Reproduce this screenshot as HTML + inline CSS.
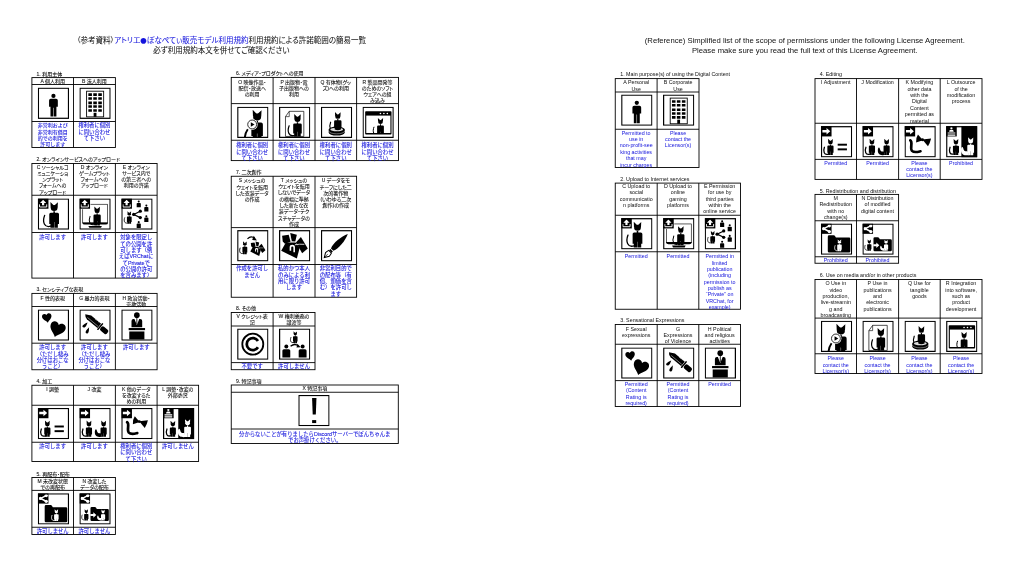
<!DOCTYPE html>
<html lang="ja">
<head>
<meta charset="utf-8">
<title>VN3 License simplified list</title>
<style>
html,body{margin:0;padding:0;background:#fff}
body{filter:blur(0.35px);width:1024px;height:571px;position:relative;overflow:hidden;font-family:"Liberation Sans","Noto Sans CJK JP",sans-serif;color:#111}
svg.g{position:absolute;left:0;top:0}
.tb{fill:none;stroke:#000;stroke-width:0.9}
.ib{fill:none;stroke:#000;stroke-width:3.9}
div{position:absolute;white-space:nowrap}
.h,.b{text-align:center}
.b{color:#1414dc}
.jp{font-feature-settings:"palt" 1;-webkit-text-stroke:0.09px currentColor}
.t.jp{-webkit-text-stroke:0.04px currentColor}
.h.jp{font-size:5.0px;line-height:6.2px}
.b.jp{font-size:5.35px;line-height:6.35px;font-feature-settings:normal}
.lb.jp{font-size:5.0px;line-height:6.2px}
.en{font-size:5.33px;line-height:6.38px}
.t{font-size:7.5px;line-height:10px;text-align:center;width:400px}
.te{font-size:7.7px;line-height:10.2px}
.t span{color:#1414dc}
.t i{font-style:normal;font-family:"Noto Sans CJK JP",sans-serif;font-size:6.4px}
</style>
</head>
<body>
<svg class="g" width="1024" height="571" viewBox="0 0 1024 571">
<rect x="31.9" y="77.6" width="83.5" height="69.9" class="tb"/>
<path d="M31.9 84.5H115.4M31.9 121.5H115.4M73.5 77.6V147.5" class="tb"/>
<svg x="37.8" y="87.6" width="31.3" height="31.3" viewBox="0 0 100 100"><circle cx="50" cy="26.5" r="6.8"/><path d="M36 41.5Q36 36 41.5 36H58.5Q64 36 64 41.5V61H59.5V92H50.8V64H49.2V92H40.5V61H36Z"/><rect x="1.95" y="1.95" width="96.1" height="96.1" class="ib"/></svg>
<svg x="79.4" y="87.6" width="31.3" height="31.3" viewBox="0 0 100 100"><rect x="23" y="11.5" width="54.5" height="82" fill="none" stroke="#000" stroke-width="2.8"/><path d="M28.6 18.4h11.4v8.2h-11.4zM28.6 30.5h11.4v8.2h-11.4zM28.6 44.6h11.4v8.2h-11.4zM28.6 56.4h11.4v8.2h-11.4zM28.6 68.9h11.4v8.2h-11.4zM44.3 18.4h11.4v8.2h-11.4zM44.3 30.5h11.4v8.2h-11.4zM44.3 44.6h11.4v8.2h-11.4zM44.3 56.4h11.4v8.2h-11.4zM44.3 68.9h11.4v8.2h-11.4zM60.3 18.4h11.4v8.2h-11.4zM60.3 30.5h11.4v8.2h-11.4zM60.3 44.6h11.4v8.2h-11.4zM60.3 56.4h11.4v8.2h-11.4zM60.3 68.9h11.4v8.2h-11.4z"/><rect x="45.5" y="80.5" width="9" height="13"/><rect x="1.95" y="1.95" width="96.1" height="96.1" class="ib"/></svg>
<rect x="31.9" y="163.5" width="125.2" height="114.6" class="tb"/>
<path d="M31.9 195.25H157.1M31.9 232.5H157.1M73.5 163.5V278.1M115.4 163.5V278.1" class="tb"/>
<svg x="37.8" y="198.4" width="31.3" height="31.3" viewBox="0 0 100 100"><g transform="translate(52.2 11.6) scale(0.82)" fill="#000"><ellipse cx="0" cy="23.4" rx="13.2" ry="11.4"/><path d="M-14.6 0L-13.6 22L-1 13.5ZM14.6 1L13.6 22L1 13.5Z"/><path d="M-3 36H3V42H13Q19 42 19 48V86H14.5V100H0.6V78H-0.6V100H-14.5V86H-19V48Q-19 42 -13 42H-3Z"/><path d="M-13 94C-38 102 -47 78 -37 52" fill="none" stroke="#000" stroke-width="5.2" stroke-linecap="round"/></g><rect x="-1" y="-1" width="36.6" height="35.6" fill="#fff"/><rect x="0" y="0" width="34" height="33" fill="#000"/><path d="M17 4.5L27 14.5H20.5V22H13.5V14.5H7Z" fill="#fff"/><path d="M5.5 19V27.5H28.5V19" fill="none" stroke="#fff" stroke-width="3"/><rect x="1.95" y="1.95" width="96.1" height="96.1" class="ib"/></svg>
<svg x="79.4" y="198.4" width="31.3" height="31.3" viewBox="0 0 100 100"><rect x="10.6" y="18.7" width="79.4" height="60" fill="none" stroke="#000" stroke-width="2"/><g transform="translate(56.6 25.8) scale(0.61)" fill="#000"><ellipse cx="0" cy="23.4" rx="13.2" ry="11.4"/><path d="M-14.6 0L-13.6 22L-1 13.5ZM14.6 1L13.6 22L1 13.5Z"/><path d="M-3 36H3V42H13Q19 42 19 48V86H14.5V100H0.6V78H-0.6V100H-14.5V86H-19V48Q-19 42 -13 42H-3Z"/><path d="M-13 94C-38 102 -47 78 -37 52" fill="none" stroke="#000" stroke-width="5.4" stroke-linecap="round"/></g><path d="M9.6 76.6H91.5Q91.5 83.7 84 83.7H17Q9.6 83.7 9.6 76.6Z"/><path d="M28.7 87.8H71.9L69 94H31.6Z"/><rect x="-1" y="-1" width="36.6" height="35.6" fill="#fff"/><rect x="0" y="0" width="34" height="33" fill="#000"/><path d="M17 4.5L27 14.5H20.5V22H13.5V14.5H7Z" fill="#fff"/><path d="M5.5 19V27.5H28.5V19" fill="none" stroke="#fff" stroke-width="3"/><rect x="1.95" y="1.95" width="96.1" height="96.1" class="ib"/></svg>
<svg x="121.3" y="198.4" width="31.3" height="31.3" viewBox="0 0 100 100"><g transform="translate(25.5 41) scale(0.4)" fill="#000"><ellipse cx="0" cy="23.4" rx="13.2" ry="11.4"/><path d="M-14.6 0L-13.6 22L-1 13.5ZM14.6 1L13.6 22L1 13.5Z"/><path d="M-3 36H3V42H13Q19 42 19 48V86H14.5V100H0.6V78H-0.6V100H-14.5V86H-19V48Q-19 42 -13 42H-3Z"/><path d="M-13 94C-38 102 -47 78 -37 52" fill="none" stroke="#000" stroke-width="6.5" stroke-linecap="round"/></g><path d="M60.7 41L39.6 51.2L60.7 61.4" fill="none" stroke="#000" stroke-width="3.8"/><circle cx="60.7" cy="41" r="5.2"/><circle cx="39.6" cy="51.2" r="5.2"/><circle cx="60.7" cy="61.4" r="5.2"/><g transform="translate(55.7 6.5) scale(0.22)" fill="#000"><circle cx="0" cy="15" r="15"/><path d="M-30 48Q-30 36 -18 36H18Q30 36 30 48V100H-30Z"/></g><g transform="translate(80 19.7) scale(0.22)" fill="#000"><circle cx="0" cy="15" r="15"/><path d="M-30 48Q-30 36 -18 36H18Q30 36 30 48V100H-30Z"/></g><g transform="translate(80 53.5) scale(0.22)" fill="#000"><circle cx="0" cy="15" r="15"/><path d="M-30 48Q-30 36 -18 36H18Q30 36 30 48V100H-30Z"/></g><g transform="translate(55.7 72.5) scale(0.22)" fill="#000"><circle cx="0" cy="15" r="15"/><path d="M-30 48Q-30 36 -18 36H18Q30 36 30 48V100H-30Z"/></g><rect x="-1" y="-1" width="36.6" height="35.6" fill="#fff"/><rect x="0" y="0" width="34" height="33" fill="#000"/><path d="M17 4.5L27 14.5H20.5V22H13.5V14.5H7Z" fill="#fff"/><path d="M5.5 19V27.5H28.5V19" fill="none" stroke="#fff" stroke-width="3"/><rect x="1.95" y="1.95" width="96.1" height="96.1" class="ib"/></svg>
<rect x="31.9" y="293.4" width="125.2" height="76.35" class="tb"/>
<path d="M31.9 306.5H157.1M31.9 343.2H157.1M73.5 293.4V369.75M115.4 293.4V369.75" class="tb"/>
<svg x="37.8" y="309.4" width="31.3" height="31.3" viewBox="0 0 100 100"><path transform="translate(29.5 27.5) rotate(-10) scale(0.95)" d="M0 -10C-4 -18 -16 -16 -16 -6C-16 4 -4 9 0 16C4 9 16 4 16 -6C16 -16 4 -18 0 -10Z"/><path transform="translate(62 64.5) rotate(18) scale(1.55)" d="M0 -10C-4 -18 -16 -16 -16 -6C-16 4 -4 9 0 16C4 9 16 4 16 -6C16 -16 4 -18 0 -10Z"/><rect x="1.95" y="1.95" width="96.1" height="96.1" class="ib"/></svg>
<svg x="79.4" y="309.4" width="31.3" height="31.3" viewBox="0 0 100 100"><g transform="translate(18.7 15.6) rotate(40)"><path d="M0 0L17 -9.5H58V8.5H14Q5 7 0 0Z"/><path d="M12 3.2H56" stroke="#fff" stroke-width="1.4"/><path d="M34 -9.5h4l-2 2.4zM40 -9.5h4l-2 2.4zM46 -9.5h4l-2 2.4z" fill="#fff"/><rect x="59.5" y="-14" width="4.6" height="27" rx="1.6"/><rect x="65.5" y="-8.2" width="27" height="16.4" rx="6"/></g><path d="M26 41.5C22 44 13 47 10.5 51.5C8 56 12 59 16.5 57.5C21 56 24 47 26 41.5Z"/><path d="M31 57C28.5 61 21 66 20 71.5C19 76 23 78.5 27 76C31 73.5 30.5 63 31 57Z"/><rect x="1.95" y="1.95" width="96.1" height="96.1" class="ib"/></svg>
<svg x="121.3" y="309.4" width="31.3" height="31.3" viewBox="0 0 100 100"><circle cx="49.7" cy="18.4" r="9"/><path d="M32.6 57V37Q32.6 30.6 39 30.6H42L49.7 50L57.4 30.6H60.4Q66.8 30.6 66.8 37V57Z"/><path d="M48.4 27H51V44L49.7 47.5L48.4 44Z"/><rect x="23.5" y="59.5" width="52.4" height="6.8"/><rect x="25.5" y="70.5" width="48.3" height="25.5"/><rect x="1.95" y="1.95" width="96.1" height="96.1" class="ib"/></svg>
<rect x="31.9" y="385.25" width="166.7" height="76.25" class="tb"/>
<path d="M31.9 405.25H198.6M31.9 442.25H198.6M73.5 385.25V461.5M115.4 385.25V461.5M157.1 385.25V461.5" class="tb"/>
<svg x="37.8" y="407.9" width="31.3" height="31.3" viewBox="0 0 100 100"><g transform="translate(30.5 40.5) scale(0.52)" fill="#000"><ellipse cx="0" cy="23.4" rx="13.2" ry="11.4"/><path d="M-14.6 0L-13.6 22L-1 13.5ZM14.6 1L13.6 22L1 13.5Z"/><path d="M-3 36H3V42H13Q19 42 19 48V86H14.5V100H0.6V78H-0.6V100H-14.5V86H-19V48Q-19 42 -13 42H-3Z"/><path d="M-13 94C-38 102 -47 78 -37 52" fill="none" stroke="#000" stroke-width="8" stroke-linecap="round"/></g><rect x="53.6" y="56.3" width="29.6" height="6.2"/><rect x="53.6" y="71.2" width="29.6" height="6.2"/><rect x="-1" y="-1" width="36.6" height="35.6" fill="#fff"/><rect x="0" y="0" width="34" height="33" fill="#000"/><path d="M4.5 12.5H18V6L30 16.5L18 27V20.5H4.5Z" fill="#fff"/><rect x="1.95" y="1.95" width="96.1" height="96.1" class="ib"/></svg>
<svg x="79.4" y="407.9" width="31.3" height="31.3" viewBox="0 0 100 100"><g transform="translate(30.5 40.5) scale(0.52)" fill="#000"><ellipse cx="0" cy="23.4" rx="13.2" ry="11.4"/><path d="M-14.6 0L-13.6 22L-1 13.5ZM14.6 1L13.6 22L1 13.5Z"/><path d="M-3 36H3V42H13Q19 42 19 48V86H14.5V100H0.6V78H-0.6V100H-14.5V86H-19V48Q-19 42 -13 42H-3Z"/><path d="M-13 94C-38 102 -47 78 -37 52" fill="none" stroke="#000" stroke-width="8" stroke-linecap="round"/></g><g transform="translate(77.4 40.5) scale(0.52)" fill="#000"><ellipse cx="0" cy="23.4" rx="13.2" ry="11.4"/><path d="M-14.6 0L-13.6 22L-1 13.5ZM14.6 1L13.6 22L1 13.5Z"/><path d="M-3 36H3V42H13Q19 42 19 48V86H14.5V100H0.6V78H-0.6V100H-14.5V86H-19V48Q-19 42 -13 42H-3Z"/></g><path transform="translate(77.4 40.5) scale(0.52)" fill="#000" d="M-12 100C-30 103 -52 98 -54 76C-55 60 -50 52 -46 54C-40 58 -42 70 -34 76C-27 80 -22 76 -16 80Z"/><rect x="-1" y="-1" width="36.6" height="35.6" fill="#fff"/><rect x="0" y="0" width="34" height="33" fill="#000"/><path d="M4.5 12.5H18V6L30 16.5L18 27V20.5H4.5Z" fill="#fff"/><rect x="1.95" y="1.95" width="96.1" height="96.1" class="ib"/></svg>
<svg x="121.3" y="407.9" width="31.3" height="31.3" viewBox="0 0 100 100"><path d="M18.5 45.5C28 52 16 70 24 79C31 86 44 82 51 80.5" fill="none" stroke="#000" stroke-width="8.6" stroke-linecap="round"/><path d="M59 45L43 27Q35 40 37 52Z"/><path d="M57 43L85 39.5Q82 53 75 64Z"/><circle cx="57.5" cy="43.8" r="4.6"/><rect x="-1" y="-1" width="36.6" height="35.6" fill="#fff"/><rect x="0" y="0" width="34" height="33" fill="#000"/><path d="M4.5 12.5H18V6L30 16.5L18 27V20.5H4.5Z" fill="#fff"/><rect x="1.95" y="1.95" width="96.1" height="96.1" class="ib"/></svg>
<svg x="163" y="407.9" width="31.3" height="31.3" viewBox="0 0 100 100"><rect x="48.8" y="0" width="51.2" height="100"/><g transform="translate(31.5 41) scale(0.51)" fill="#000"><ellipse cx="0" cy="23.4" rx="13.2" ry="11.4"/><path d="M-14.6 0L-13.6 22L-1 13.5ZM14.6 1L13.6 22L1 13.5Z"/><path d="M-3 36H3V42H13Q19 42 19 48V86H14.5V100H0.6V78H-0.6V100H-14.5V86H-19V48Q-19 42 -13 42H-3Z"/><path d="M-13 94C-38 102 -47 78 -37 52" fill="none" stroke="#000" stroke-width="8" stroke-linecap="round"/></g><g transform="translate(78.5 36) scale(0.57)" fill="#fff"><ellipse cx="0" cy="23.4" rx="13.2" ry="11.4"/><path d="M-14.6 0L-13.6 22L-1 13.5ZM14.6 1L13.6 22L1 13.5Z"/><path d="M-3 36H3V42H13Q19 42 19 48V86H14.5V100H0.6V78H-0.6V100H-14.5V86H-19V48Q-19 42 -13 42H-3Z"/></g><path transform="translate(78.5 36) scale(0.57)" fill="#fff" d="M-12 100C-30 103 -52 98 -54 76C-55 60 -50 52 -46 54C-40 58 -42 70 -34 76C-27 80 -22 76 -16 80Z"/><rect x="-1" y="-1" width="36.6" height="35.6" fill="#fff"/><rect x="0" y="0" width="34" height="33" fill="#000"/><circle cx="17" cy="6.5" r="3.6" fill="#fff"/><path d="M10 16.5Q10 11.5 14.5 11.5H19.5Q24 11.5 24 16.5V18H10Z" fill="#fff"/><path d="M4.5 20.5H29.5V24H4.5ZM4.5 27H29.5V30.5H4.5Z" fill="#fff"/><rect x="1.95" y="1.95" width="96.1" height="96.1" class="ib"/></svg>
<rect x="31.9" y="477.5" width="83.5" height="57" class="tb"/>
<path d="M31.9 490.4H115.4M31.9 527.25H115.4M73.5 477.5V534.5" class="tb"/>
<svg x="37.8" y="493.25" width="31.3" height="31.3" viewBox="0 0 100 100"><path d="M22 42Q22 37.8 26.2 37.8H41Q44 37.8 45.5 40.5L48 45H90Q94 45 94 49V88.7Q94 92.7 90 92.7H26Q22 92.7 22 88.7Z"/><g transform="translate(59.3 51) scale(0.38)" fill="#fff"><ellipse cx="0" cy="23.4" rx="13.2" ry="11.4"/><path d="M-14.6 0L-13.6 22L-1 13.5ZM14.6 1L13.6 22L1 13.5Z"/><path d="M-3 36H3V42H13Q19 42 19 48V86H14.5V100H0.6V78H-0.6V100H-14.5V86H-19V48Q-19 42 -13 42H-3Z"/><path d="M-13 94C-38 102 -47 78 -37 52" fill="none" stroke="#fff" stroke-width="7" stroke-linecap="round"/></g><rect x="-1" y="-1" width="36.6" height="35.6" fill="#fff"/><rect x="0" y="0" width="34" height="33" fill="#000"/><path d="M26.5 7.5L9 16.5L26.5 25.5" fill="none" stroke="#fff" stroke-width="4.8"/><circle cx="27" cy="7.2" r="5.2" fill="#fff"/><circle cx="8.4" cy="16.5" r="5.2" fill="#fff"/><circle cx="27" cy="25.8" r="5.2" fill="#fff"/><rect x="1.95" y="1.95" width="96.1" height="96.1" class="ib"/></svg>
<svg x="79.4" y="493.25" width="31.3" height="31.3" viewBox="0 0 100 100"><path d="M35.4 48Q35.4 44 39.4 44H49Q52 44 53.5 46.6L55.5 50H90Q94 50 94 54V85Q94 89 90 89H39.4Q35.4 89 35.4 85Z"/><g transform="translate(22 51) scale(0.36)" fill="#000"><ellipse cx="0" cy="23.4" rx="13.2" ry="11.4"/><path d="M-14.6 0L-13.6 22L-1 13.5ZM14.6 1L13.6 22L1 13.5Z"/><path d="M-3 36H3V42H13Q19 42 19 48V86H14.5V100H0.6V78H-0.6V100H-14.5V86H-19V48Q-19 42 -13 42H-3Z"/><path d="M-13 94C-38 102 -47 78 -37 52" fill="none" stroke="#000" stroke-width="6.5" stroke-linecap="round"/></g><path d="M35 66.2H44.5V60.5L54 69.5L44.5 78.5V72.8H35Z" fill="#fff"/><g transform="translate(75.6 52) scale(0.35)" fill="#fff"><ellipse cx="0" cy="23.4" rx="13.2" ry="11.4"/><path d="M-14.6 0L-13.6 22L-1 13.5ZM14.6 1L13.6 22L1 13.5Z"/><path d="M-3 36H3V42H13Q19 42 19 48V86H14.5V100H0.6V78H-0.6V100H-14.5V86H-19V48Q-19 42 -13 42H-3Z"/></g><path transform="translate(75.6 52) scale(0.35)" fill="#fff" d="M-12 100C-30 103 -52 98 -54 76C-55 60 -50 52 -46 54C-40 58 -42 70 -34 76C-27 80 -22 76 -16 80Z"/><rect x="-1" y="-1" width="36.6" height="35.6" fill="#fff"/><rect x="0" y="0" width="34" height="33" fill="#000"/><path d="M26.5 7.5L9 16.5L26.5 25.5" fill="none" stroke="#fff" stroke-width="4.8"/><circle cx="27" cy="7.2" r="5.2" fill="#fff"/><circle cx="8.4" cy="16.5" r="5.2" fill="#fff"/><circle cx="27" cy="25.8" r="5.2" fill="#fff"/><rect x="1.95" y="1.95" width="96.1" height="96.1" class="ib"/></svg>
<rect x="231.25" y="77.4" width="167.25" height="83.2" class="tb"/>
<path d="M231.25 103.6H398.5M231.25 140.25H398.5M273.1 77.4V160.6M315 77.4V160.6M356.6 77.4V160.6" class="tb"/>
<svg x="237.15" y="106.7" width="31.3" height="31.3" viewBox="0 0 100 100"><g transform="translate(63.8 10) scale(0.97)" fill="#000"><ellipse cx="0" cy="23.4" rx="13.2" ry="11.4"/><path d="M-14.6 0L-13.6 22L-1 13.5ZM14.6 1L13.6 22L1 13.5Z"/><path d="M-3 36H3V42H13Q19 42 19 48V86H14.5V100H0.6V78H-0.6V100H-14.5V86H-19V48Q-19 42 -13 42H-3Z"/></g><path d="M24 100C25 88 28 80 34 72" fill="none" stroke="#000" stroke-width="6.2"/><circle cx="48" cy="56.8" r="17.6" fill="#fff"/><circle cx="48" cy="56.8" r="14.2" fill="#fff" stroke="#000" stroke-width="2.6"/><path d="M43.6 49.6V64L55.6 56.8Z"/><rect x="1.95" y="1.95" width="96.1" height="96.1" class="ib"/></svg>
<svg x="279" y="106.7" width="31.3" height="31.3" viewBox="0 0 100 100"><path d="M32.7 14.8H79.3V95H20.7V31.8Z" fill="#fff" stroke="#000" stroke-width="2.2"/><path d="M32.7 14.8V31.8H20.7" fill="none" stroke="#000" stroke-width="2"/><g transform="translate(59 23.5) scale(0.72)" fill="#000"><ellipse cx="0" cy="23.4" rx="13.2" ry="11.4"/><path d="M-14.6 0L-13.6 22L-1 13.5ZM14.6 1L13.6 22L1 13.5Z"/><path d="M-3 36H3V42H13Q19 42 19 48V86H14.5V100H0.6V78H-0.6V100H-14.5V86H-19V48Q-19 42 -13 42H-3Z"/><path d="M-13 94C-38 102 -47 78 -37 52" fill="none" stroke="#000" stroke-width="5.4" stroke-linecap="round"/></g><rect x="1.95" y="1.95" width="96.1" height="96.1" class="ib"/></svg>
<svg x="320.9" y="106.7" width="31.3" height="31.3" viewBox="0 0 100 100"><g transform="translate(54 17.3) scale(0.62)" fill="#000"><ellipse cx="0" cy="23.4" rx="13.2" ry="11.4"/><path d="M-14.6 0L-13.6 22L-1 13.5ZM14.6 1L13.6 22L1 13.5Z"/><path d="M-3 36H3V42H13Q19 42 19 48V86H14.5V100H0.6V78H-0.6V100H-14.5V86H-19V48Q-19 42 -13 42H-3Z"/><path d="M-13 94C-38 102 -47 78 -37 52" fill="none" stroke="#000" stroke-width="6" stroke-linecap="round"/></g><path d="M24.9 73V82.5A25.6 9.5 0 0 0 76.1 82.5V73Z"/><ellipse cx="50.5" cy="73" rx="25.6" ry="9.5"/><ellipse cx="50.5" cy="72.6" rx="20.4" ry="5.6" fill="#ddd"/><path d="M25.4 78.4A25.2 9 0 0 0 75.6 78.4" fill="none" stroke="#fff" stroke-width="1.3"/><path d="M44 56H64V73Q54 77 44 73Z"/><rect x="1.95" y="1.95" width="96.1" height="96.1" class="ib"/></svg>
<svg x="362.5" y="106.7" width="31.3" height="31.3" viewBox="0 0 100 100"><rect x="8.5" y="14.8" width="84.2" height="74.2" rx="2.5" fill="#000"/><rect x="12" y="28.4" width="77.2" height="55.6" fill="#fff"/><svg x="12" y="28.4" width="77.2" height="55.6" viewBox="12 28.4 77.2 55.6"><g transform="translate(57.5 35.8) scale(0.57)" fill="#000"><ellipse cx="0" cy="23.4" rx="13.2" ry="11.4"/><path d="M-14.6 0L-13.6 22L-1 13.5ZM14.6 1L13.6 22L1 13.5Z"/><path d="M-3 36H3V42H13Q19 42 19 48V86H14.5V100H0.6V78H-0.6V100H-14.5V86H-19V48Q-19 42 -13 42H-3Z"/><path d="M-13 94C-38 102 -47 78 -37 52" fill="none" stroke="#000" stroke-width="5.6" stroke-linecap="round"/></g></svg><circle cx="57.3" cy="21.7" r="2.6" fill="#fff"/><circle cx="68.3" cy="21.7" r="2.6" fill="#fff"/><circle cx="79.3" cy="21.7" r="2.6" fill="#fff"/><rect x="1.95" y="1.95" width="96.1" height="96.1" class="ib"/></svg>
<rect x="231.25" y="176.25" width="125.35" height="121" class="tb"/>
<path d="M231.25 227.6H356.6M231.25 264.5H356.6M273.1 176.25V297.25M315 176.25V297.25" class="tb"/>
<svg x="237.15" y="230.1" width="31.3" height="31.3" viewBox="0 0 100 100"><g transform="translate(24.6 36) scale(0.41)" fill="#000"><ellipse cx="0" cy="23.4" rx="13.2" ry="11.4"/><path d="M-14.6 0L-13.6 22L-1 13.5ZM14.6 1L13.6 22L1 13.5Z"/><path d="M-3 36H3V42H13Q19 42 19 48V86H14.5V100H0.6V78H-0.6V100H-14.5V86H-19V48Q-19 42 -13 42H-3Z"/><path d="M-13 94C-38 102 -47 78 -37 52" fill="none" stroke="#000" stroke-width="7" stroke-linecap="round"/></g><path d="M33 28Q44 16 56 26" fill="none" stroke="#000" stroke-width="4"/><path d="M53 18L63 33L48 32Z"/><g transform="translate(38 31) scale(0.57)"><path d="M36 9L57 15L52 36.4L39 35.4Z"/><path d="M10 18L31 15L37 37.4L19 43.4L12 36.4Z"/><path d="M22 39.4L7 65.7L57 91L66 56.6L53 39.4Z"/><path d="M54 39.4L70 22.2L92 58.6L74 73.7L64 56.6Z"/><path d="M33 10L40.6 36.4" stroke="#fff" stroke-width="2.2" fill="none"/><path d="M51 46.8Q66 44 81 45.5" stroke="#fff" stroke-width="2.6" fill="none"/><path d="M34 66V53Q34 46.5 42.5 46.5Q51 46.5 51 53V70.5H46V56Q46 52.5 42.5 52.5Q39 52.5 39 56V66Z" fill="#fff"/></g><rect x="1.95" y="1.95" width="96.1" height="96.1" class="ib"/></svg>
<svg x="279" y="230.1" width="31.3" height="31.3" viewBox="0 0 100 100"><g transform="translate(0 0) scale(1)"><path d="M36 9L57 15L52 36.4L39 35.4Z"/><path d="M10 18L31 15L37 37.4L19 43.4L12 36.4Z"/><path d="M22 39.4L7 65.7L57 91L66 56.6L53 39.4Z"/><path d="M54 39.4L70 22.2L92 58.6L74 73.7L64 56.6Z"/><path d="M33 10L40.6 36.4" stroke="#fff" stroke-width="2.2" fill="none"/><path d="M51 46.8Q66 44 81 45.5" stroke="#fff" stroke-width="2.6" fill="none"/><path d="M34 66V53Q34 46.5 42.5 46.5Q51 46.5 51 53V70.5H46V56Q46 52.5 42.5 52.5Q39 52.5 39 56V66Z" fill="#fff"/></g><rect x="1.95" y="1.95" width="96.1" height="96.1" class="ib"/></svg>
<svg x="320.9" y="230.1" width="31.3" height="31.3" viewBox="0 0 100 100"><g transform="translate(11 87.5) rotate(-45)"><path d="M0 0L14 -8.5Q20 -8 26 -6V6Q20 8 14 8.5Z" fill="#fff" stroke="#000" stroke-width="3.2"/><path d="M2 0H15" stroke="#000" stroke-width="2.2"/><rect x="27.5" y="-5.6" width="5.5" height="11.2"/><path d="M35.5 -5.6C52 -13 86 -9.5 106 0C86 9.5 52 13 35.5 5.6Z"/></g><rect x="1.95" y="1.95" width="96.1" height="96.1" class="ib"/></svg>
<rect x="231.25" y="312.5" width="83.75" height="57.2" class="tb"/>
<path d="M231.25 326H315M231.25 362.6H315M273.1 312.5V369.7" class="tb"/>
<svg x="237.15" y="328.5" width="31.3" height="31.3" viewBox="0 0 100 100"><circle cx="50" cy="50" r="33.5" fill="none" stroke="#000" stroke-width="5.8"/><path d="M66.5 40A19.3 19.3 0 1 0 66.5 60" fill="none" stroke="#000" stroke-width="8.8"/><rect x="1.95" y="1.95" width="96.1" height="96.1" class="ib"/></svg>
<svg x="279" y="328.5" width="31.3" height="31.3" viewBox="0 0 100 100"><g transform="translate(52 9) scale(0.38)" fill="#000"><ellipse cx="0" cy="23.4" rx="13.2" ry="11.4"/><path d="M-14.6 0L-13.6 22L-1 13.5ZM14.6 1L13.6 22L1 13.5Z"/><path d="M-3 36H3V42H13Q19 42 19 48V86H14.5V100H0.6V78H-0.6V100H-14.5V86H-19V48Q-19 42 -13 42H-3Z"/><path d="M-13 94C-38 102 -47 78 -37 52" fill="none" stroke="#000" stroke-width="7" stroke-linecap="round"/></g><g transform="translate(23.4 51) scale(0.42)" fill="#000"><circle cx="0" cy="15" r="15"/><path d="M-30 48Q-30 36 -18 36H18Q30 36 30 48V100H-30Z"/></g><g transform="translate(75.5 51) scale(0.42)" fill="#000"><circle cx="0" cy="15" r="15"/><path d="M-30 48Q-30 36 -18 36H18Q30 36 30 48V100H-30Z"/></g><path d="M37 57Q50 46 62 56" fill="none" stroke="#000" stroke-width="4.2"/><path d="M59 49L69 60L56 61Z"/><rect x="1.95" y="1.95" width="96.1" height="96.1" class="ib"/></svg>
<rect x="231.25" y="385" width="167.05" height="58.5" class="tb"/>
<path d="M231.25 392.25H398.3M231.25 429H398.3" class="tb"/>
<svg x="298.3" y="394.9" width="31.3" height="31.3" viewBox="0 0 100 100"><path d="M44 10H58L56 63H46Z"/><rect x="44.2" y="80.5" width="13" height="9.5"/><rect x="1.95" y="1.95" width="96.1" height="96.1" class="ib"/></svg>
<rect x="615.25" y="78.6" width="83.75" height="88.9" class="tb"/>
<path d="M615.25 92H699M615.25 129.25H699M657.1 78.6V167.5" class="tb"/>
<svg x="621.15" y="94.5" width="31.3" height="31.3" viewBox="0 0 100 100"><circle cx="50" cy="26.5" r="6.8"/><path d="M36 41.5Q36 36 41.5 36H58.5Q64 36 64 41.5V61H59.5V92H50.8V64H49.2V92H40.5V61H36Z"/><rect x="1.95" y="1.95" width="96.1" height="96.1" class="ib"/></svg>
<svg x="663" y="94.5" width="31.3" height="31.3" viewBox="0 0 100 100"><rect x="23" y="11.5" width="54.5" height="82" fill="none" stroke="#000" stroke-width="2.8"/><path d="M28.6 18.4h11.4v8.2h-11.4zM28.6 30.5h11.4v8.2h-11.4zM28.6 44.6h11.4v8.2h-11.4zM28.6 56.4h11.4v8.2h-11.4zM28.6 68.9h11.4v8.2h-11.4zM44.3 18.4h11.4v8.2h-11.4zM44.3 30.5h11.4v8.2h-11.4zM44.3 44.6h11.4v8.2h-11.4zM44.3 56.4h11.4v8.2h-11.4zM44.3 68.9h11.4v8.2h-11.4zM60.3 18.4h11.4v8.2h-11.4zM60.3 30.5h11.4v8.2h-11.4zM60.3 44.6h11.4v8.2h-11.4zM60.3 56.4h11.4v8.2h-11.4zM60.3 68.9h11.4v8.2h-11.4z"/><rect x="45.5" y="80.5" width="9" height="13"/><rect x="1.95" y="1.95" width="96.1" height="96.1" class="ib"/></svg>
<rect x="615.25" y="183.1" width="125.25" height="126.15" class="tb"/>
<path d="M615.25 215.25H740.5M615.25 251.75H740.5M657.2 183.1V309.25M698.8 183.1V309.25" class="tb"/>
<svg x="621.15" y="218.1" width="31.3" height="31.3" viewBox="0 0 100 100"><g transform="translate(52.2 11.6) scale(0.82)" fill="#000"><ellipse cx="0" cy="23.4" rx="13.2" ry="11.4"/><path d="M-14.6 0L-13.6 22L-1 13.5ZM14.6 1L13.6 22L1 13.5Z"/><path d="M-3 36H3V42H13Q19 42 19 48V86H14.5V100H0.6V78H-0.6V100H-14.5V86H-19V48Q-19 42 -13 42H-3Z"/><path d="M-13 94C-38 102 -47 78 -37 52" fill="none" stroke="#000" stroke-width="5.2" stroke-linecap="round"/></g><rect x="-1" y="-1" width="36.6" height="35.6" fill="#fff"/><rect x="0" y="0" width="34" height="33" fill="#000"/><path d="M17 4.5L27 14.5H20.5V22H13.5V14.5H7Z" fill="#fff"/><path d="M5.5 19V27.5H28.5V19" fill="none" stroke="#fff" stroke-width="3"/><rect x="1.95" y="1.95" width="96.1" height="96.1" class="ib"/></svg>
<svg x="663.1" y="218.1" width="31.3" height="31.3" viewBox="0 0 100 100"><rect x="10.6" y="18.7" width="79.4" height="60" fill="none" stroke="#000" stroke-width="2"/><g transform="translate(56.6 25.8) scale(0.61)" fill="#000"><ellipse cx="0" cy="23.4" rx="13.2" ry="11.4"/><path d="M-14.6 0L-13.6 22L-1 13.5ZM14.6 1L13.6 22L1 13.5Z"/><path d="M-3 36H3V42H13Q19 42 19 48V86H14.5V100H0.6V78H-0.6V100H-14.5V86H-19V48Q-19 42 -13 42H-3Z"/><path d="M-13 94C-38 102 -47 78 -37 52" fill="none" stroke="#000" stroke-width="5.4" stroke-linecap="round"/></g><path d="M9.6 76.6H91.5Q91.5 83.7 84 83.7H17Q9.6 83.7 9.6 76.6Z"/><path d="M28.7 87.8H71.9L69 94H31.6Z"/><rect x="-1" y="-1" width="36.6" height="35.6" fill="#fff"/><rect x="0" y="0" width="34" height="33" fill="#000"/><path d="M17 4.5L27 14.5H20.5V22H13.5V14.5H7Z" fill="#fff"/><path d="M5.5 19V27.5H28.5V19" fill="none" stroke="#fff" stroke-width="3"/><rect x="1.95" y="1.95" width="96.1" height="96.1" class="ib"/></svg>
<svg x="704.7" y="218.1" width="31.3" height="31.3" viewBox="0 0 100 100"><g transform="translate(25.5 41) scale(0.4)" fill="#000"><ellipse cx="0" cy="23.4" rx="13.2" ry="11.4"/><path d="M-14.6 0L-13.6 22L-1 13.5ZM14.6 1L13.6 22L1 13.5Z"/><path d="M-3 36H3V42H13Q19 42 19 48V86H14.5V100H0.6V78H-0.6V100H-14.5V86H-19V48Q-19 42 -13 42H-3Z"/><path d="M-13 94C-38 102 -47 78 -37 52" fill="none" stroke="#000" stroke-width="6.5" stroke-linecap="round"/></g><path d="M60.7 41L39.6 51.2L60.7 61.4" fill="none" stroke="#000" stroke-width="3.8"/><circle cx="60.7" cy="41" r="5.2"/><circle cx="39.6" cy="51.2" r="5.2"/><circle cx="60.7" cy="61.4" r="5.2"/><g transform="translate(55.7 6.5) scale(0.22)" fill="#000"><circle cx="0" cy="15" r="15"/><path d="M-30 48Q-30 36 -18 36H18Q30 36 30 48V100H-30Z"/></g><g transform="translate(80 19.7) scale(0.22)" fill="#000"><circle cx="0" cy="15" r="15"/><path d="M-30 48Q-30 36 -18 36H18Q30 36 30 48V100H-30Z"/></g><g transform="translate(80 53.5) scale(0.22)" fill="#000"><circle cx="0" cy="15" r="15"/><path d="M-30 48Q-30 36 -18 36H18Q30 36 30 48V100H-30Z"/></g><g transform="translate(55.7 72.5) scale(0.22)" fill="#000"><circle cx="0" cy="15" r="15"/><path d="M-30 48Q-30 36 -18 36H18Q30 36 30 48V100H-30Z"/></g><rect x="-1" y="-1" width="36.6" height="35.6" fill="#fff"/><rect x="0" y="0" width="34" height="33" fill="#000"/><path d="M17 4.5L27 14.5H20.5V22H13.5V14.5H7Z" fill="#fff"/><path d="M5.5 19V27.5H28.5V19" fill="none" stroke="#fff" stroke-width="3"/><rect x="1.95" y="1.95" width="96.1" height="96.1" class="ib"/></svg>
<rect x="615.25" y="324.5" width="125.25" height="82" class="tb"/>
<path d="M615.25 344.25H740.5M615.25 380.6H740.5M657.2 324.5V406.5M698.8 324.5V406.5" class="tb"/>
<svg x="621.15" y="347.4" width="31.3" height="31.3" viewBox="0 0 100 100"><path transform="translate(29.5 27.5) rotate(-10) scale(0.95)" d="M0 -10C-4 -18 -16 -16 -16 -6C-16 4 -4 9 0 16C4 9 16 4 16 -6C16 -16 4 -18 0 -10Z"/><path transform="translate(62 64.5) rotate(18) scale(1.55)" d="M0 -10C-4 -18 -16 -16 -16 -6C-16 4 -4 9 0 16C4 9 16 4 16 -6C16 -16 4 -18 0 -10Z"/><rect x="1.95" y="1.95" width="96.1" height="96.1" class="ib"/></svg>
<svg x="663.1" y="347.4" width="31.3" height="31.3" viewBox="0 0 100 100"><g transform="translate(18.7 15.6) rotate(40)"><path d="M0 0L17 -9.5H58V8.5H14Q5 7 0 0Z"/><path d="M12 3.2H56" stroke="#fff" stroke-width="1.4"/><path d="M34 -9.5h4l-2 2.4zM40 -9.5h4l-2 2.4zM46 -9.5h4l-2 2.4z" fill="#fff"/><rect x="59.5" y="-14" width="4.6" height="27" rx="1.6"/><rect x="65.5" y="-8.2" width="27" height="16.4" rx="6"/></g><path d="M26 41.5C22 44 13 47 10.5 51.5C8 56 12 59 16.5 57.5C21 56 24 47 26 41.5Z"/><path d="M31 57C28.5 61 21 66 20 71.5C19 76 23 78.5 27 76C31 73.5 30.5 63 31 57Z"/><rect x="1.95" y="1.95" width="96.1" height="96.1" class="ib"/></svg>
<svg x="704.7" y="347.4" width="31.3" height="31.3" viewBox="0 0 100 100"><circle cx="49.7" cy="18.4" r="9"/><path d="M32.6 57V37Q32.6 30.6 39 30.6H42L49.7 50L57.4 30.6H60.4Q66.8 30.6 66.8 37V57Z"/><path d="M48.4 27H51V44L49.7 47.5L48.4 44Z"/><rect x="23.5" y="59.5" width="52.4" height="6.8"/><rect x="25.5" y="70.5" width="48.3" height="25.5"/><rect x="1.95" y="1.95" width="96.1" height="96.1" class="ib"/></svg>
<rect x="815" y="78.6" width="167" height="100.8" class="tb"/>
<path d="M815 123.25H982M815 159.4H982M856.5 78.6V179.4M898.6 78.6V179.4M940.2 78.6V179.4" class="tb"/>
<svg x="820.9" y="126.1" width="31.3" height="31.3" viewBox="0 0 100 100"><g transform="translate(30.5 40.5) scale(0.52)" fill="#000"><ellipse cx="0" cy="23.4" rx="13.2" ry="11.4"/><path d="M-14.6 0L-13.6 22L-1 13.5ZM14.6 1L13.6 22L1 13.5Z"/><path d="M-3 36H3V42H13Q19 42 19 48V86H14.5V100H0.6V78H-0.6V100H-14.5V86H-19V48Q-19 42 -13 42H-3Z"/><path d="M-13 94C-38 102 -47 78 -37 52" fill="none" stroke="#000" stroke-width="8" stroke-linecap="round"/></g><rect x="53.6" y="56.3" width="29.6" height="6.2"/><rect x="53.6" y="71.2" width="29.6" height="6.2"/><rect x="-1" y="-1" width="36.6" height="35.6" fill="#fff"/><rect x="0" y="0" width="34" height="33" fill="#000"/><path d="M4.5 12.5H18V6L30 16.5L18 27V20.5H4.5Z" fill="#fff"/><rect x="1.95" y="1.95" width="96.1" height="96.1" class="ib"/></svg>
<svg x="862.4" y="126.1" width="31.3" height="31.3" viewBox="0 0 100 100"><g transform="translate(30.5 40.5) scale(0.52)" fill="#000"><ellipse cx="0" cy="23.4" rx="13.2" ry="11.4"/><path d="M-14.6 0L-13.6 22L-1 13.5ZM14.6 1L13.6 22L1 13.5Z"/><path d="M-3 36H3V42H13Q19 42 19 48V86H14.5V100H0.6V78H-0.6V100H-14.5V86H-19V48Q-19 42 -13 42H-3Z"/><path d="M-13 94C-38 102 -47 78 -37 52" fill="none" stroke="#000" stroke-width="8" stroke-linecap="round"/></g><g transform="translate(77.4 40.5) scale(0.52)" fill="#000"><ellipse cx="0" cy="23.4" rx="13.2" ry="11.4"/><path d="M-14.6 0L-13.6 22L-1 13.5ZM14.6 1L13.6 22L1 13.5Z"/><path d="M-3 36H3V42H13Q19 42 19 48V86H14.5V100H0.6V78H-0.6V100H-14.5V86H-19V48Q-19 42 -13 42H-3Z"/></g><path transform="translate(77.4 40.5) scale(0.52)" fill="#000" d="M-12 100C-30 103 -52 98 -54 76C-55 60 -50 52 -46 54C-40 58 -42 70 -34 76C-27 80 -22 76 -16 80Z"/><rect x="-1" y="-1" width="36.6" height="35.6" fill="#fff"/><rect x="0" y="0" width="34" height="33" fill="#000"/><path d="M4.5 12.5H18V6L30 16.5L18 27V20.5H4.5Z" fill="#fff"/><rect x="1.95" y="1.95" width="96.1" height="96.1" class="ib"/></svg>
<svg x="904.5" y="126.1" width="31.3" height="31.3" viewBox="0 0 100 100"><path d="M18.5 45.5C28 52 16 70 24 79C31 86 44 82 51 80.5" fill="none" stroke="#000" stroke-width="8.6" stroke-linecap="round"/><path d="M59 45L43 27Q35 40 37 52Z"/><path d="M57 43L85 39.5Q82 53 75 64Z"/><circle cx="57.5" cy="43.8" r="4.6"/><rect x="-1" y="-1" width="36.6" height="35.6" fill="#fff"/><rect x="0" y="0" width="34" height="33" fill="#000"/><path d="M4.5 12.5H18V6L30 16.5L18 27V20.5H4.5Z" fill="#fff"/><rect x="1.95" y="1.95" width="96.1" height="96.1" class="ib"/></svg>
<svg x="946.1" y="126.1" width="31.3" height="31.3" viewBox="0 0 100 100"><rect x="48.8" y="0" width="51.2" height="100"/><g transform="translate(31.5 41) scale(0.51)" fill="#000"><ellipse cx="0" cy="23.4" rx="13.2" ry="11.4"/><path d="M-14.6 0L-13.6 22L-1 13.5ZM14.6 1L13.6 22L1 13.5Z"/><path d="M-3 36H3V42H13Q19 42 19 48V86H14.5V100H0.6V78H-0.6V100H-14.5V86H-19V48Q-19 42 -13 42H-3Z"/><path d="M-13 94C-38 102 -47 78 -37 52" fill="none" stroke="#000" stroke-width="8" stroke-linecap="round"/></g><g transform="translate(78.5 36) scale(0.57)" fill="#fff"><ellipse cx="0" cy="23.4" rx="13.2" ry="11.4"/><path d="M-14.6 0L-13.6 22L-1 13.5ZM14.6 1L13.6 22L1 13.5Z"/><path d="M-3 36H3V42H13Q19 42 19 48V86H14.5V100H0.6V78H-0.6V100H-14.5V86H-19V48Q-19 42 -13 42H-3Z"/></g><path transform="translate(78.5 36) scale(0.57)" fill="#fff" d="M-12 100C-30 103 -52 98 -54 76C-55 60 -50 52 -46 54C-40 58 -42 70 -34 76C-27 80 -22 76 -16 80Z"/><rect x="-1" y="-1" width="36.6" height="35.6" fill="#fff"/><rect x="0" y="0" width="34" height="33" fill="#000"/><circle cx="17" cy="6.5" r="3.6" fill="#fff"/><path d="M10 16.5Q10 11.5 14.5 11.5H19.5Q24 11.5 24 16.5V18H10Z" fill="#fff"/><path d="M4.5 20.5H29.5V24H4.5ZM4.5 27H29.5V30.5H4.5Z" fill="#fff"/><rect x="1.95" y="1.95" width="96.1" height="96.1" class="ib"/></svg>
<rect x="815" y="194.4" width="83.6" height="68.85" class="tb"/>
<path d="M815 220.75H898.6M815 256.75H898.6M856.5 194.4V263.25" class="tb"/>
<svg x="820.9" y="223.5" width="31.3" height="31.3" viewBox="0 0 100 100"><path d="M22 42Q22 37.8 26.2 37.8H41Q44 37.8 45.5 40.5L48 45H90Q94 45 94 49V88.7Q94 92.7 90 92.7H26Q22 92.7 22 88.7Z"/><g transform="translate(59.3 51) scale(0.38)" fill="#fff"><ellipse cx="0" cy="23.4" rx="13.2" ry="11.4"/><path d="M-14.6 0L-13.6 22L-1 13.5ZM14.6 1L13.6 22L1 13.5Z"/><path d="M-3 36H3V42H13Q19 42 19 48V86H14.5V100H0.6V78H-0.6V100H-14.5V86H-19V48Q-19 42 -13 42H-3Z"/><path d="M-13 94C-38 102 -47 78 -37 52" fill="none" stroke="#fff" stroke-width="7" stroke-linecap="round"/></g><rect x="-1" y="-1" width="36.6" height="35.6" fill="#fff"/><rect x="0" y="0" width="34" height="33" fill="#000"/><path d="M26.5 7.5L9 16.5L26.5 25.5" fill="none" stroke="#fff" stroke-width="4.8"/><circle cx="27" cy="7.2" r="5.2" fill="#fff"/><circle cx="8.4" cy="16.5" r="5.2" fill="#fff"/><circle cx="27" cy="25.8" r="5.2" fill="#fff"/><rect x="1.95" y="1.95" width="96.1" height="96.1" class="ib"/></svg>
<svg x="862.4" y="223.5" width="31.3" height="31.3" viewBox="0 0 100 100"><path d="M35.4 48Q35.4 44 39.4 44H49Q52 44 53.5 46.6L55.5 50H90Q94 50 94 54V85Q94 89 90 89H39.4Q35.4 89 35.4 85Z"/><g transform="translate(22 51) scale(0.36)" fill="#000"><ellipse cx="0" cy="23.4" rx="13.2" ry="11.4"/><path d="M-14.6 0L-13.6 22L-1 13.5ZM14.6 1L13.6 22L1 13.5Z"/><path d="M-3 36H3V42H13Q19 42 19 48V86H14.5V100H0.6V78H-0.6V100H-14.5V86H-19V48Q-19 42 -13 42H-3Z"/><path d="M-13 94C-38 102 -47 78 -37 52" fill="none" stroke="#000" stroke-width="6.5" stroke-linecap="round"/></g><path d="M35 66.2H44.5V60.5L54 69.5L44.5 78.5V72.8H35Z" fill="#fff"/><g transform="translate(75.6 52) scale(0.35)" fill="#fff"><ellipse cx="0" cy="23.4" rx="13.2" ry="11.4"/><path d="M-14.6 0L-13.6 22L-1 13.5ZM14.6 1L13.6 22L1 13.5Z"/><path d="M-3 36H3V42H13Q19 42 19 48V86H14.5V100H0.6V78H-0.6V100H-14.5V86H-19V48Q-19 42 -13 42H-3Z"/></g><path transform="translate(75.6 52) scale(0.35)" fill="#fff" d="M-12 100C-30 103 -52 98 -54 76C-55 60 -50 52 -46 54C-40 58 -42 70 -34 76C-27 80 -22 76 -16 80Z"/><rect x="-1" y="-1" width="36.6" height="35.6" fill="#fff"/><rect x="0" y="0" width="34" height="33" fill="#000"/><path d="M26.5 7.5L9 16.5L26.5 25.5" fill="none" stroke="#fff" stroke-width="4.8"/><circle cx="27" cy="7.2" r="5.2" fill="#fff"/><circle cx="8.4" cy="16.5" r="5.2" fill="#fff"/><circle cx="27" cy="25.8" r="5.2" fill="#fff"/><rect x="1.95" y="1.95" width="96.1" height="96.1" class="ib"/></svg>
<rect x="815" y="279.5" width="167" height="94" class="tb"/>
<path d="M815 318.1H982M815 353.75H982M856.5 279.5V373.5M898.6 279.5V373.5M940.2 279.5V373.5" class="tb"/>
<svg x="820.9" y="320.7" width="31.3" height="31.3" viewBox="0 0 100 100"><g transform="translate(63.8 10) scale(0.97)" fill="#000"><ellipse cx="0" cy="23.4" rx="13.2" ry="11.4"/><path d="M-14.6 0L-13.6 22L-1 13.5ZM14.6 1L13.6 22L1 13.5Z"/><path d="M-3 36H3V42H13Q19 42 19 48V86H14.5V100H0.6V78H-0.6V100H-14.5V86H-19V48Q-19 42 -13 42H-3Z"/></g><path d="M24 100C25 88 28 80 34 72" fill="none" stroke="#000" stroke-width="6.2"/><circle cx="48" cy="56.8" r="17.6" fill="#fff"/><circle cx="48" cy="56.8" r="14.2" fill="#fff" stroke="#000" stroke-width="2.6"/><path d="M43.6 49.6V64L55.6 56.8Z"/><rect x="1.95" y="1.95" width="96.1" height="96.1" class="ib"/></svg>
<svg x="862.4" y="320.7" width="31.3" height="31.3" viewBox="0 0 100 100"><path d="M32.7 14.8H79.3V95H20.7V31.8Z" fill="#fff" stroke="#000" stroke-width="2.2"/><path d="M32.7 14.8V31.8H20.7" fill="none" stroke="#000" stroke-width="2"/><g transform="translate(59 23.5) scale(0.72)" fill="#000"><ellipse cx="0" cy="23.4" rx="13.2" ry="11.4"/><path d="M-14.6 0L-13.6 22L-1 13.5ZM14.6 1L13.6 22L1 13.5Z"/><path d="M-3 36H3V42H13Q19 42 19 48V86H14.5V100H0.6V78H-0.6V100H-14.5V86H-19V48Q-19 42 -13 42H-3Z"/><path d="M-13 94C-38 102 -47 78 -37 52" fill="none" stroke="#000" stroke-width="5.4" stroke-linecap="round"/></g><rect x="1.95" y="1.95" width="96.1" height="96.1" class="ib"/></svg>
<svg x="904.5" y="320.7" width="31.3" height="31.3" viewBox="0 0 100 100"><g transform="translate(54 17.3) scale(0.62)" fill="#000"><ellipse cx="0" cy="23.4" rx="13.2" ry="11.4"/><path d="M-14.6 0L-13.6 22L-1 13.5ZM14.6 1L13.6 22L1 13.5Z"/><path d="M-3 36H3V42H13Q19 42 19 48V86H14.5V100H0.6V78H-0.6V100H-14.5V86H-19V48Q-19 42 -13 42H-3Z"/><path d="M-13 94C-38 102 -47 78 -37 52" fill="none" stroke="#000" stroke-width="6" stroke-linecap="round"/></g><path d="M24.9 73V82.5A25.6 9.5 0 0 0 76.1 82.5V73Z"/><ellipse cx="50.5" cy="73" rx="25.6" ry="9.5"/><ellipse cx="50.5" cy="72.6" rx="20.4" ry="5.6" fill="#ddd"/><path d="M25.4 78.4A25.2 9 0 0 0 75.6 78.4" fill="none" stroke="#fff" stroke-width="1.3"/><path d="M44 56H64V73Q54 77 44 73Z"/><rect x="1.95" y="1.95" width="96.1" height="96.1" class="ib"/></svg>
<svg x="946.1" y="320.7" width="31.3" height="31.3" viewBox="0 0 100 100"><rect x="8.5" y="14.8" width="84.2" height="74.2" rx="2.5" fill="#000"/><rect x="12" y="28.4" width="77.2" height="55.6" fill="#fff"/><svg x="12" y="28.4" width="77.2" height="55.6" viewBox="12 28.4 77.2 55.6"><g transform="translate(57.5 35.8) scale(0.57)" fill="#000"><ellipse cx="0" cy="23.4" rx="13.2" ry="11.4"/><path d="M-14.6 0L-13.6 22L-1 13.5ZM14.6 1L13.6 22L1 13.5Z"/><path d="M-3 36H3V42H13Q19 42 19 48V86H14.5V100H0.6V78H-0.6V100H-14.5V86H-19V48Q-19 42 -13 42H-3Z"/><path d="M-13 94C-38 102 -47 78 -37 52" fill="none" stroke="#000" stroke-width="5.6" stroke-linecap="round"/></g></svg><circle cx="57.3" cy="21.7" r="2.6" fill="#fff"/><circle cx="68.3" cy="21.7" r="2.6" fill="#fff"/><circle cx="79.3" cy="21.7" r="2.6" fill="#fff"/><rect x="1.95" y="1.95" width="96.1" height="96.1" class="ib"/></svg>
</svg>
<div class="t jp" style="left:21.35px;top:35.85px">（参考資料）<span>アトリエ<i>●</i>ぽなぺてぃ販売モデル利用規約</span>利用規約による許諾範囲の簡易一覧<br>必ず利用規約本文を併せてご確認ください</div>
<div class="t te" style="left:604.8px;top:36.05px">(Reference) Simplified list of the scope of permissions under the following License Agreement.<br>Please make sure you read the full text of this License Agreement.</div>
<div class="lb jp" style="left:36.6px;top:70.7px">1. 利用主体</div>
<div class="h jp" style="left:31.9px;top:77.95px;width:41.6px;">A 個人利用</div>
<div class="b jp" style="left:31.9px;top:122.45px;width:41.6px;font-size:5px;line-height:6.35px;">非営利および<br>非営利有償目<br>的での利用を<br>許可します</div>
<div class="h jp" style="left:73.5px;top:77.95px;width:41.9px;">B 法人利用</div>
<div class="b jp" style="left:73.5px;top:122.25px;width:41.9px;">権利者に個別<br>に問い合わせ<br>て下さい</div>
<div class="lb jp" style="left:36.6px;top:155.5px">2. オンラインサービスへのアップロード</div>
<div class="h jp" style="left:31.9px;top:163.85px;width:41.6px;">C ソーシャルコ<br>ミュニケーショ<br>ンプラット<br>フォームへの<br>アップロード</div>
<div class="b jp" style="left:31.9px;top:234.3px;width:41.6px;">許可します</div>
<div class="h jp" style="left:73.5px;top:163.85px;width:41.9px;">D オンライン<br>ゲームプラット<br>フォームへの<br>アップロード</div>
<div class="b jp" style="left:73.5px;top:234.3px;width:41.9px;">許可します</div>
<div class="h jp" style="left:115.4px;top:163.85px;width:41.7px;">E オンライン<br>サービス内で<br>の第三者への<br>利用の許諾</div>
<div class="b jp" style="left:115.4px;top:234.3px;width:41.7px;">対象を限定し<br>ての公開を許<br>可します（例<br>えばVRChatに<br>てPrivateで<br>の公開の許可<br>を含みます）</div>
<div class="lb jp" style="left:36.6px;top:286.4px">3. センシティブな表現</div>
<div class="h jp" style="left:31.9px;top:294.75px;width:41.6px;">F 性的表現</div>
<div class="b jp" style="left:31.9px;top:344.4px;width:41.6px;">許可します<br>（ただし棲み<br>分けはおこな<br>うこと）</div>
<div class="h jp" style="left:73.5px;top:294.75px;width:41.9px;">G 暴力的表現</div>
<div class="b jp" style="left:73.5px;top:344.4px;width:41.9px;">許可します<br>（ただし棲み<br>分けはおこな<br>うこと）</div>
<div class="h jp" style="left:115.4px;top:294.75px;width:41.7px;">H 政治活動・<br>宗教活動</div>
<div class="b jp" style="left:115.4px;top:344.4px;width:41.7px;">許可します</div>
<div class="lb jp" style="left:36.6px;top:377.7px">4. 加工</div>
<div class="h jp" style="left:31.9px;top:385.8px;width:41.6px;">I 調整</div>
<div class="b jp" style="left:31.9px;top:443.15px;width:41.6px;">許可します</div>
<div class="h jp" style="left:73.5px;top:385.8px;width:41.9px;">J 改変</div>
<div class="b jp" style="left:73.5px;top:443.15px;width:41.9px;">許可します</div>
<div class="h jp" style="left:115.4px;top:385.8px;width:41.7px;">K 他のデータ<br>を改変するた<br>めの利用</div>
<div class="b jp" style="left:115.4px;top:443.15px;width:41.7px;">権利者に個別<br>に問い合わせ<br>て下さい</div>
<div class="h jp" style="left:157.1px;top:385.8px;width:41.5px;">L 調整・改変の<br>外部委託</div>
<div class="b jp" style="left:157.1px;top:443.15px;width:41.5px;">許可しません</div>
<div class="lb jp" style="left:36.6px;top:470.5px">5. 再配布・配布</div>
<div class="h jp" style="left:31.9px;top:477.85px;width:41.6px;">M 未改変状態<br>での再配布</div>
<div class="b jp" style="left:31.9px;top:527.75px;width:41.6px;">許可しません</div>
<div class="h jp" style="left:73.5px;top:477.85px;width:41.9px;">N 改変した<br>データの配布</div>
<div class="b jp" style="left:73.5px;top:527.75px;width:41.9px;">許可しません</div>
<div class="lb jp" style="left:236px;top:70.4px">6. メディア・プロダクトへの使用</div>
<div class="h jp" style="left:231.25px;top:78.75px;width:41.85px;">O 映像作品・<br>配信・放送へ<br>の利用</div>
<div class="b jp" style="left:231.25px;top:142.25px;width:41.85px;">権利者に個別<br>に問い合わせ<br>て下さい</div>
<div class="h jp" style="left:273.1px;top:78.75px;width:41.9px;">P 出版物・電<br>子出版物への<br>利用</div>
<div class="b jp" style="left:273.1px;top:142.25px;width:41.9px;">権利者に個別<br>に問い合わせ<br>て下さい</div>
<div class="h jp" style="left:315px;top:78.75px;width:41.6px;">Q 有体物(グッ<br>ズ)への利用</div>
<div class="b jp" style="left:315px;top:142.25px;width:41.6px;">権利者に個別<br>に問い合わせ<br>て下さい</div>
<div class="h jp" style="left:356.6px;top:78.75px;width:41.9px;">R 製品開発等<br>のためのソフト<br>ウェアへの組<br>み込み</div>
<div class="b jp" style="left:356.6px;top:142.25px;width:41.9px;">権利者に個別<br>に問い合わせ<br>て下さい</div>
<div class="lb jp" style="left:236px;top:168.5px">7. 二次創作</div>
<div class="h jp" style="left:231.25px;top:177.3px;width:41.85px;">S メッシュの<br>ウェイトを転用<br>した衣装データ<br>の作成</div>
<div class="b jp" style="left:231.25px;top:265.3px;width:41.85px;">作成を許可し<br>ません</div>
<div class="h jp" style="left:273.1px;top:176.5px;width:41.9px;line-height:6.39px;">T メッシュの<br>ウェイトを転用<br>しないでデータ<br>の構幅に準拠<br>した新たな衣<br>装データ・テク<br>スチャデータの<br>作成</div>
<div class="b jp" style="left:273.1px;top:265.3px;width:41.9px;">私的かつ本人<br>のみによる利<br>用に限り許可<br>します</div>
<div class="h jp" style="left:315px;top:177.3px;width:41.6px;">U データをモ<br>チーフにした二<br>次的著作物<br>(いわゆる二次<br>創作)の作成</div>
<div class="b jp" style="left:315px;top:265.3px;width:41.6px;">非営利目的で<br>の配布等（有<br>償、頒価を含<br>む）を許可し<br>ます</div>
<div class="lb jp" style="left:236px;top:304.5px">8. その他</div>
<div class="h jp" style="left:231.25px;top:312.85px;width:41.85px;">V クレジット表<br>記</div>
<div class="b jp" style="left:231.25px;top:362.8px;width:41.85px;">不要です</div>
<div class="h jp" style="left:273.1px;top:312.85px;width:41.9px;">W 権利義務の<br>譲渡等</div>
<div class="b jp" style="left:273.1px;top:362.8px;width:41.9px;">許可しません</div>
<div class="lb jp" style="left:236px;top:377.7px">9. 特記事項</div>
<div class="h jp" style="left:231.25px;top:385.35px;width:167.05px;">X 特記事項</div>
<div class="b jp" style="left:231.25px;top:430.5px;width:167.05px;">分からないことが有りましたらDiscordサーバーでぽんちゃんま<br>でお声掛けください。</div>
<div class="lb en" style="left:620.2px;top:71.36px">1. Main purpose(s) of using the Digital Content</div>
<div class="h en" style="left:615.25px;top:79.25px;width:41.85px;">A Personal<br>Use</div>
<div class="b en" style="left:615.25px;top:129.65px;width:41.85px;">Permitted to<br>use in<br>non-profit-see<br>king activities<br>that may<br>incur charges</div>
<div class="h en" style="left:657.1px;top:79.25px;width:41.9px;">B  Corporate<br>Use</div>
<div class="b en" style="left:657.1px;top:129.65px;width:41.9px;">Please<br>contact the<br>Licensor(s)</div>
<div class="lb en" style="left:620.2px;top:176.26px">2. Upload to Internet services</div>
<div class="h en" style="left:615.25px;top:182.75px;width:41.95px;">C Upload to<br>social<br>communicatio<br>n platforms</div>
<div class="b en" style="left:615.25px;top:253.15px;width:41.95px;">Permitted</div>
<div class="h en" style="left:657.2px;top:182.75px;width:41.6px;">D Upload to<br>online<br>gaming<br>platforms</div>
<div class="b en" style="left:657.2px;top:253.15px;width:41.6px;">Permitted</div>
<div class="h en" style="left:698.8px;top:182.75px;width:41.7px;">E Permission<br>for use by<br>third parties<br>within the<br>online service</div>
<div class="b en" style="left:698.8px;top:253.15px;width:41.7px;">Permitted in<br>limited<br>publication<br>(including<br>permission to<br>publish as<br>“Private” on<br>VRChat, for<br>example)</div>
<div class="lb en" style="left:620.2px;top:317.36px">3. Sensational Expressions</div>
<div class="h en" style="left:615.25px;top:325.55px;width:41.95px;">F Sexual<br>expressions</div>
<div class="b en" style="left:615.25px;top:381px;width:41.95px;">Permitted<br>(Content<br>Rating is<br>required)</div>
<div class="h en" style="left:657.2px;top:325.55px;width:41.6px;">G<br>Expressions<br>of Violence</div>
<div class="b en" style="left:657.2px;top:381px;width:41.6px;">Permitted<br>(Content<br>Rating is<br>required)</div>
<div class="h en" style="left:698.8px;top:325.55px;width:41.7px;">H Political<br>and religious<br>activities</div>
<div class="b en" style="left:698.8px;top:381px;width:41.7px;">Permitted</div>
<div class="lb en" style="left:819.8px;top:71.36px">4. Editing</div>
<div class="h en" style="left:815px;top:79.25px;width:41.5px;">I Adjustment</div>
<div class="b en" style="left:815px;top:159.6px;width:41.5px;">Permitted</div>
<div class="h en" style="left:856.5px;top:79.25px;width:42.1px;">J Modification</div>
<div class="b en" style="left:856.5px;top:159.6px;width:42.1px;">Permitted</div>
<div class="h en" style="left:898.6px;top:79.25px;width:41.6px;">K Modifying<br>other data<br>with the<br>Digital<br>Content<br>permitted as<br>material</div>
<div class="b en" style="left:898.6px;top:159.6px;width:41.6px;">Please<br>contact the<br>Licensor(s)</div>
<div class="h en" style="left:940.2px;top:79.25px;width:41.8px;">L Outsource<br>of the<br>modification<br>process</div>
<div class="b en" style="left:940.2px;top:159.6px;width:41.8px;">Prohibited</div>
<div class="lb en" style="left:819.8px;top:188.46px">5. Redistribution and distribution</div>
<div class="h en" style="left:815px;top:195.05px;width:41.5px;">M<br>Redistribution<br>with no<br>change(s)</div>
<div class="b en" style="left:815px;top:256.8px;width:41.5px;">Prohibited</div>
<div class="h en" style="left:856.5px;top:195.05px;width:42.1px;">N Distribution<br>of modified<br>digital content</div>
<div class="b en" style="left:856.5px;top:256.8px;width:42.1px;">Prohibited</div>
<div class="lb en" style="left:819.8px;top:271.96px">6. Use on media and/or in other products</div>
<div class="h en" style="left:815px;top:280.15px;width:41.5px;">O Use in<br>video<br>production,<br>live-streamin<br>g and<br>broadcasting</div>
<div class="b en" style="left:815px;top:355.45px;width:41.5px;">Please<br>contact the<br>Licensor(s)</div>
<div class="h en" style="left:856.5px;top:280.15px;width:42.1px;">P Use in<br>publications<br>and<br>electronic<br>publications</div>
<div class="b en" style="left:856.5px;top:355.45px;width:42.1px;">Please<br>contact the<br>Licensor(s)</div>
<div class="h en" style="left:898.6px;top:280.15px;width:41.6px;">Q Use for<br>tangible<br>goods</div>
<div class="b en" style="left:898.6px;top:355.45px;width:41.6px;">Please<br>contact the<br>Licensor(s)</div>
<div class="h en" style="left:940.2px;top:280.15px;width:41.8px;">R Integration<br>into software,<br>such as<br>product<br>development</div>
<div class="b en" style="left:940.2px;top:355.45px;width:41.8px;">Please<br>contact the<br>Licensor(s)</div>
</body>
</html>
